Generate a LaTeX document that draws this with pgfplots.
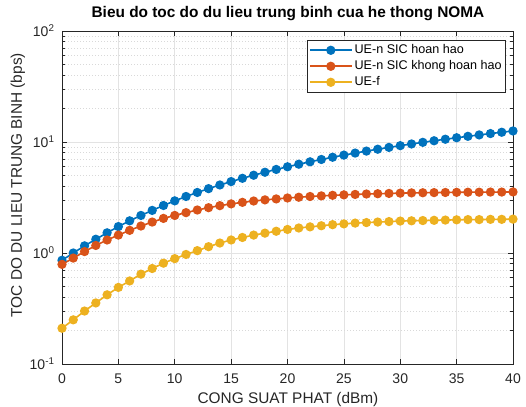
\documentclass[border=0pt]{standalone}
\usepackage{fontspec}
\setmainfont{Liberation Sans}
\usepackage{pgfplots}
\usepackage{pgfplotstable}
\pgfplotsset{compat=1.18}
\definecolor{mblue}{RGB}{0,114,189}
\definecolor{morange}{RGB}{217,83,25}
\definecolor{myellow}{RGB}{237,177,32}
\definecolor{axgray}{RGB}{38,38,38}
\pgfplotstableread{
x a b c
0 0.86 0.79 0.21
1 1.00 0.90 0.25
2 1.16 1.03 0.30
3 1.33 1.17 0.355
4 1.52 1.31 0.42
5 1.73 1.45 0.49
6 1.95 1.60 0.56
7 2.18 1.75 0.645
8 2.42 1.90 0.725
9 2.68 2.05 0.81
10 2.95 2.18 0.89
11 3.23 2.31 0.97
12 3.51 2.44 1.05
13 3.80 2.56 1.14
14 4.10 2.67 1.23
15 4.40 2.77 1.31
16 4.71 2.86 1.38
17 5.02 2.94 1.45
18 5.34 3.01 1.51
19 5.66 3.07 1.57
20 5.98 3.13 1.63
21 6.31 3.18 1.68
22 6.63 3.23 1.72
23 6.96 3.27 1.76
24 7.29 3.31 1.80
25 7.62 3.34 1.83
26 7.95 3.37 1.86
27 8.28 3.40 1.88
28 8.61 3.42 1.90
29 8.94 3.44 1.92
30 9.27 3.46 1.94
31 9.60 3.48 1.95
32 9.93 3.49 1.96
33 10.26 3.50 1.97
34 10.59 3.51 1.98
35 10.92 3.52 1.99
36 11.25 3.53 2.00
37 11.58 3.53 2.00
38 11.91 3.54 2.01
39 12.24 3.54 2.01
40 12.57 3.55 2.02
}\datatable
\begin{document}
\begin{tikzpicture}
\useasboundingbox (-62pt,-42pt) rectangle (464pt,364pt);
\begin{axis}[
  at={(0,0)}, anchor=south west,
  scale only axis, width=451pt, height=333pt,
  ymode=log, xmin=0, xmax=40, ymin=0.1, ymax=100,
  xtick={0,5,...,40}, xticklabels={0,5,10,15,20,25,30,35,40},
  ytick={0.1,1,10,100},
  yticklabels={10\textsuperscript{-1},10\textsuperscript{0},10\textsuperscript{1},10\textsuperscript{2}},
  minor x tick num=0,
  tick align=inside, tick pos=both,
  major tick length=5pt, minor tick length=3pt,
  every tick/.style={axgray, line width=0.6pt},
  axis line style={axgray, line width=0.8pt},
  grid=major, yminorgrids=true,
  major grid style={gray!22, line width=0.6pt},
  minor grid style={gray!30, line width=0.6pt, dash pattern=on 1pt off 2pt},
  tick label style={font=\fontsize{14}{16}\selectfont, text=axgray},
  xticklabel style={anchor=base, yshift=-19pt},
  yticklabel style={anchor=east, xshift=-4pt},
  title={\textbf{Bieu do toc do du lieu trung binh cua he thong NOMA}},
  title style={font=\fontsize{15.4}{18}\selectfont, at={(axis description cs:0.501,1)}, anchor=base, yshift=7.5pt},
  xlabel={CONG SUAT PHAT (dBm)},
  ylabel={TOC DO DU LIEU TRUNG BINH (bps)},
  label style={font=\fontsize{15.4}{18}\selectfont, text=axgray},
  xlabel style={at={(axis description cs:0.501,-0.120)}, anchor=base},
  ylabel style={at={(axis description cs:-0.0887,0.537)}, anchor=base},
  legend style={at={(axis description cs:0.9845,0.973)}, anchor=north east,
    draw=axgray, line width=0.6pt, fill=white, inner sep=2pt,
    font=\fontsize{12.6}{14}\selectfont,
    nodes={text height=9pt, text depth=3pt, inner sep=2pt}},
  legend cell align=left,
  legend image code/.code={\draw[mark repeat=2,mark phase=2] plot coordinates {(0pt,0pt) (21pt,0pt) (42pt,0pt)};},
  every axis plot/.append style={line width=1.6pt, mark=*, mark size=3.8pt},
]
\addplot[mblue, mark options={fill=mblue}] table[x=x, y=a] {\datatable};
\addlegendentry{UE-n SIC hoan hao}
\addplot[morange, mark options={fill=morange}] table[x=x, y=b] {\datatable};
\addlegendentry{UE-n SIC khong hoan hao}
\addplot[myellow, mark options={fill=myellow}] table[x=x, y=c] {\datatable};
\addlegendentry{UE-f}
\end{axis}
\end{tikzpicture}
\end{document}
